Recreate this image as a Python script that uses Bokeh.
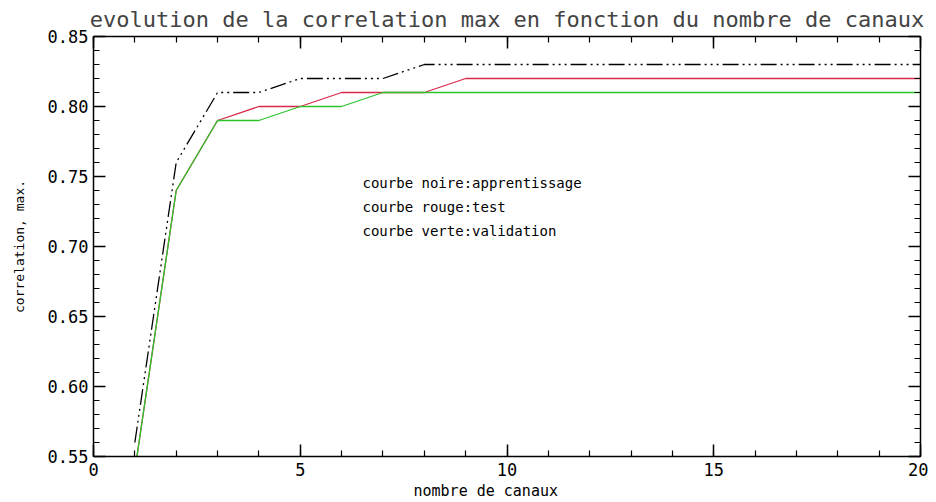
from bokeh.plotting import figure
from bokeh.models import LinearAxis, FixedTicker, Label, Range1d, NumeralTickFormatter, Title
from bokeh.embed import file_html
from bokeh.resources import INLINE

canaux = list(range(1, 21))
apprentissage = [0.56, 0.76, 0.81, 0.81, 0.82, 0.82, 0.82, 0.83, 0.83, 0.83,
                 0.83, 0.83, 0.83, 0.83, 0.83, 0.83, 0.83, 0.83, 0.83, 0.83]
test = [0.54, 0.74, 0.79, 0.80, 0.80, 0.81, 0.81, 0.81, 0.82, 0.82,
        0.82, 0.82, 0.82, 0.82, 0.82, 0.82, 0.82, 0.82, 0.82, 0.82]
validation = [0.54, 0.74, 0.79, 0.79, 0.80, 0.80, 0.81, 0.81, 0.81, 0.81,
              0.81, 0.81, 0.81, 0.81, 0.81, 0.81, 0.81, 0.81, 0.81, 0.81]
x_ticks = [0, 5, 10, 15, 20]
y_ticks = [0.55, 0.60, 0.65, 0.70, 0.75, 0.80, 0.85]
titre = "evolution de la correlation max en fonction du nombre de canaux"
x_titre = "nombre de canaux"
y_titre = "correlation, max."
legendes = ["courbe noire:apprentissage", "courbe rouge:test", "courbe verte:validation"]

FONT = "DejaVu Sans Mono"

p = figure(width=928, height=500, output_backend="svg", toolbar_location=None,
           x_range=Range1d(0, 20), y_range=Range1d(0.55, 0.85),
           x_axis_location=None, y_axis_location=None,
           min_border_left=93, min_border_right=8, min_border_top=35, min_border_bottom=44,
           title=titre)
p.title.text_font = FONT
p.title.text_font_size = "22px"
p.title.text_font_style = "normal"
p.title.align = "center"
p.title.standoff = 9
p.outline_line_color = None
p.xgrid.visible = False
p.ygrid.visible = False

def style(ax, labels=True):
    ax.axis_line_color = "black"
    ax.axis_line_width = 1.5
    ax.major_tick_line_color = "black"
    ax.minor_tick_line_color = "black"
    ax.major_tick_line_width = 1.5
    ax.minor_tick_line_width = 1.2
    ax.major_tick_in = 12
    ax.major_tick_out = 0
    ax.minor_tick_in = 6
    ax.minor_tick_out = 0
    ax.major_label_text_font = FONT
    ax.major_label_text_font_size = "17px"
    ax.major_label_text_color = "black"
    ax.axis_label_text_font = FONT
    ax.axis_label_text_font_style = "normal"
    ax.axis_label_text_color = "black"
    if not labels:
        ax.major_label_text_font_size = "0px"

xb = LinearAxis(ticker=FixedTicker(ticks=x_ticks, minor_ticks=canaux + [0]))
style(xb)
xb.major_label_standoff = 6
xt = LinearAxis(ticker=FixedTicker(ticks=x_ticks, minor_ticks=canaux + [0]))
style(xt, labels=False)

y_minor = [round(0.55 + 0.01 * i, 2) for i in range(31)]
yl = LinearAxis(ticker=FixedTicker(ticks=y_ticks, minor_ticks=y_minor),
                axis_label=y_titre, formatter=NumeralTickFormatter(format="0.00"))
style(yl)
yl.axis_label_text_font_size = "13px"
yl.axis_label_standoff = 18
yl.major_label_standoff = 5
yr = LinearAxis(ticker=FixedTicker(ticks=y_ticks, minor_ticks=y_minor))
style(yr, labels=False)

p.add_layout(xb, "below")
p.add_layout(xt, "above")
p.add_layout(yl, "left")
p.add_layout(yr, "right")

xt_title = Title(text=x_titre, align="left", offset=320, text_font=FONT,
                 text_font_size="15px", text_font_style="normal", text_color="black",
                 standoff=2)
p.add_layout(xt_title, "below")

p.line(canaux, apprentissage, line_color="black", line_width=1.3,
       line_dash="16 4 2 4 2 4 2 4")
p.line(canaux, test, line_color="#d8284a", line_width=1.3)
p.line(canaux, validation, line_color="#2cc42c", line_width=1.3)

for i, t in enumerate(legendes):
    p.add_layout(Label(x=269, y=274 - 24 * i, x_units="screen", y_units="screen",
                       text=t, text_font=FONT, text_font_size="14px",
                       text_baseline="middle", text_color="black"))

open("out.html", "w").write(file_html(p, INLINE))
